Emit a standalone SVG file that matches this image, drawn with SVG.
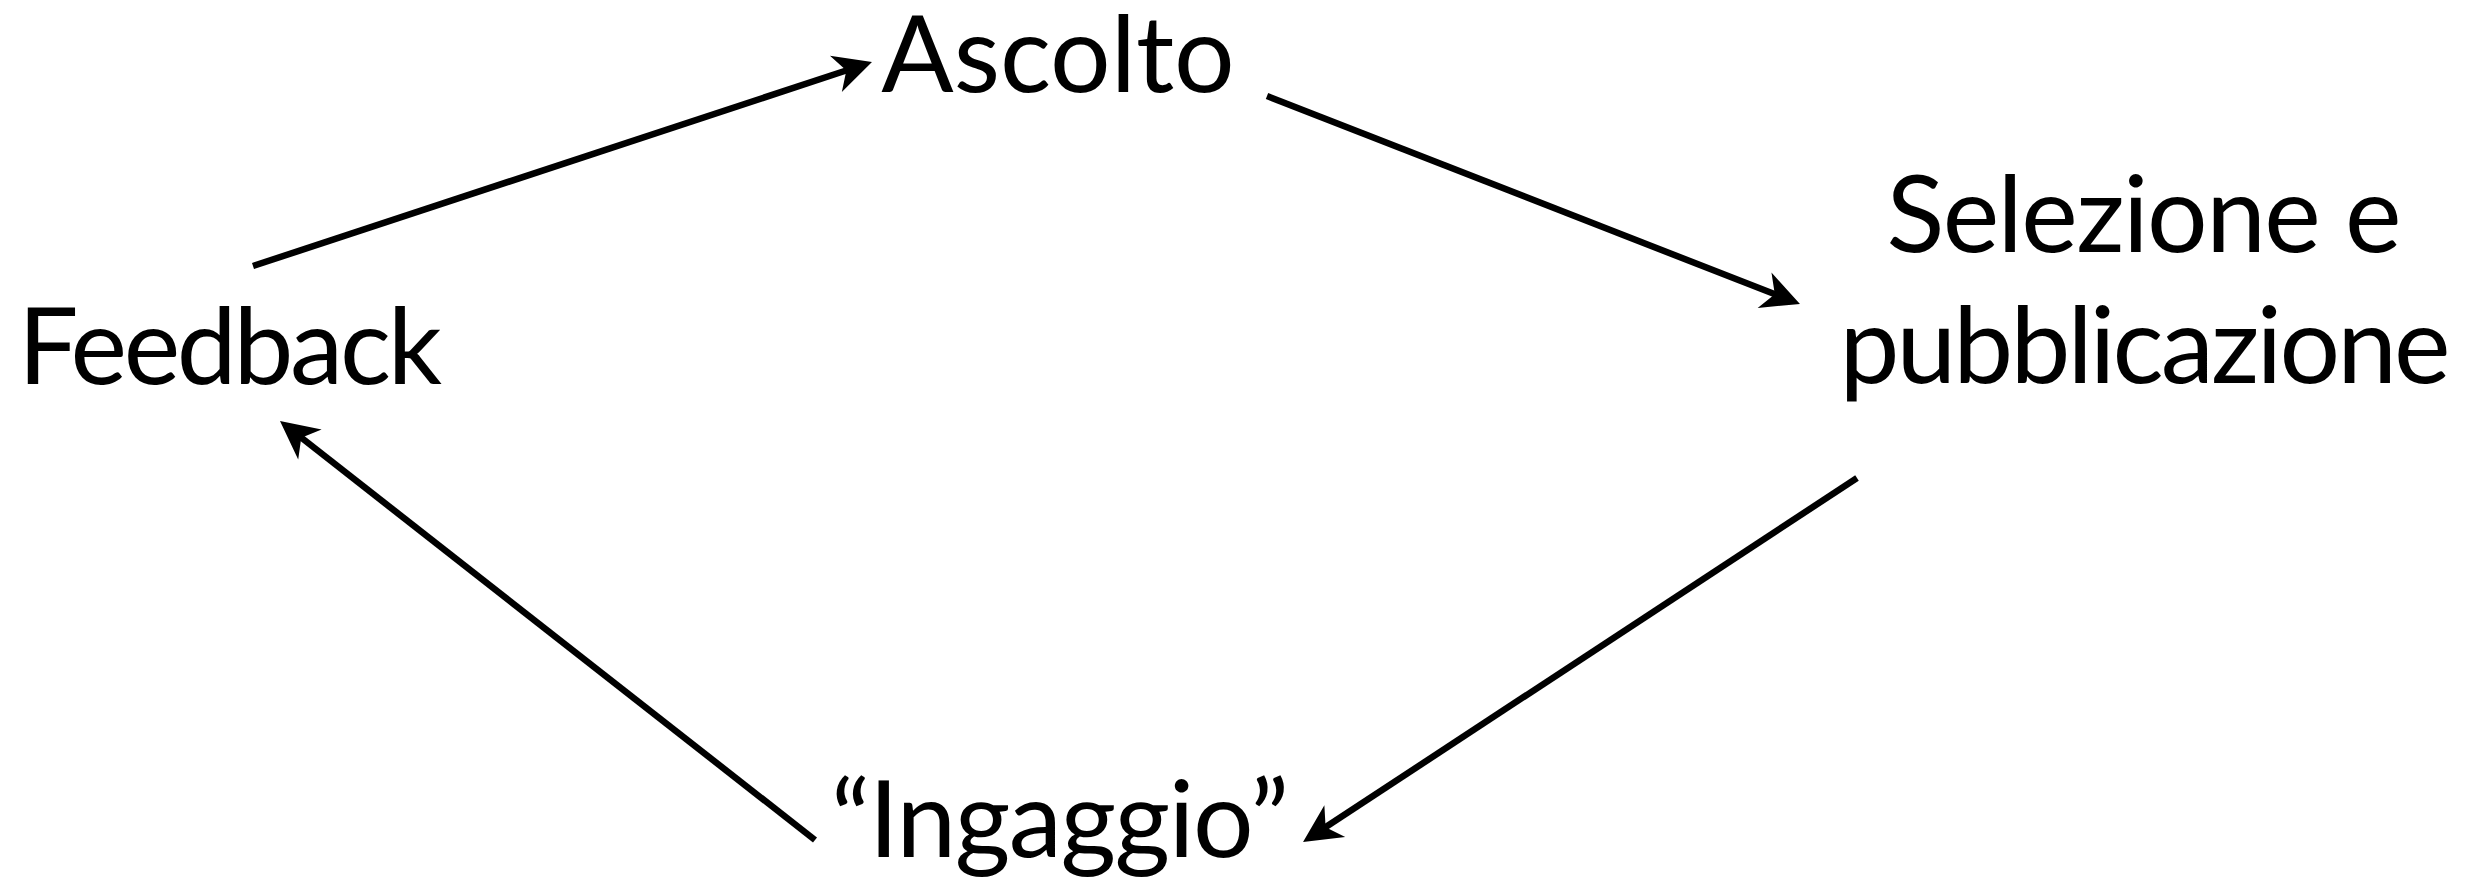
<svg xmlns="http://www.w3.org/2000/svg" width="2479" height="878" viewBox="0 0 2479 878">
  <style>
    .label { font-family: Lato, "Open Sans", "Liberation Sans", sans-serif; font-size: 107px; fill: #000; text-anchor: middle; }
    .edge { stroke: #000; stroke-width: 6.5; fill: none; stroke-linecap: butt; marker-end: url(#head); }
  </style>
  <defs>
    <!-- barbed arrowhead; the line stops just inside the notch -->
    <marker id="head" markerUnits="userSpaceOnUse" orient="auto" refX="0" refY="0" markerWidth="90" markerHeight="90" viewBox="-45 -45 90 90" overflow="visible">
      <path d="M24,0 L-14,-19 L-3,0 L-14,19 Z" fill="#000"/>
    </marker>
  </defs>
  <rect width="2479" height="878" fill="#fff"/>

  <g id="connectors">
    <line class="edge" x1="253" y1="266" x2="849.2" y2="69.5"/>
    <line class="edge" x1="1267" y1="96" x2="1777.6" y2="295.3"/>
    <line class="edge" x1="1857" y1="478" x2="1323.1" y2="828.8"/>
    <line class="edge" x1="815" y1="840" x2="298.9" y2="435.8"/>
  </g>

  <g id="ascolto">
    <text class="label" x="1058" y="92">Ascolto</text>
  </g>
  <g id="selezione">
    <text class="label" x="2144" y="252" textLength="515" lengthAdjust="spacing">Selezione e</text>
    <text class="label" x="2145" y="383" textLength="611" lengthAdjust="spacing">pubblicazione</text>
  </g>
  <g id="ingaggio">
    <text class="label" x="1060" y="857" textLength="458" lengthAdjust="spacing">“Ingaggio”</text>
  </g>
  <g id="feedback">
    <text class="label" x="230" y="384" textLength="424" lengthAdjust="spacing">Feedback</text>
  </g>
</svg>
